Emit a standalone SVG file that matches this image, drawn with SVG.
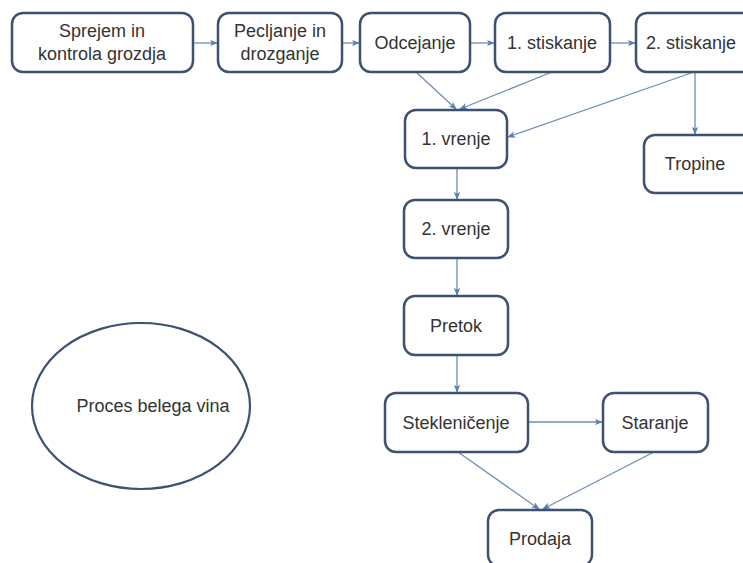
<svg xmlns="http://www.w3.org/2000/svg" width="743" height="563" viewBox="0 0 743 563">
<defs>
<style>
.box{fill:#fff;stroke:#3d5170;stroke-width:2.5}
.t{font-family:"Liberation Sans",Arial,sans-serif;font-size:18px;fill:#333;text-anchor:middle}
.c{stroke:#6d8fb5;stroke-width:1.3;fill:none;marker-end:url(#ah)}
</style>
<marker id="ah" viewBox="0 0 10 10" refX="9" refY="5" markerWidth="8" markerHeight="8" markerUnits="userSpaceOnUse" orient="auto">
<path d="M0,1 L10,5 L0,9 L2.5,5 Z" fill="#5b7fa8"/>
</marker>
</defs>
<rect width="743" height="563" fill="#fff"/>
<g id="connectors">
<line class="c" x1="193" y1="43" x2="217" y2="43"/>
<line class="c" x1="342" y1="43" x2="359" y2="43"/>
<line class="c" x1="470" y1="43" x2="494" y2="43"/>
<line class="c" x1="610" y1="43" x2="635" y2="43"/>
<line class="c" x1="416" y1="72" x2="456" y2="109"/>
<line class="c" x1="552" y1="72" x2="460" y2="109"/>
<line class="c" x1="694" y1="72" x2="508" y2="137"/>
<line class="c" x1="695" y1="72" x2="695" y2="134"/>
<line class="c" x1="457" y1="168" x2="457" y2="199"/>
<line class="c" x1="457" y1="258" x2="457" y2="295"/>
<line class="c" x1="457" y1="355" x2="457" y2="392"/>
<line class="c" x1="528" y1="422" x2="602" y2="422"/>
<line class="c" x1="458" y1="452" x2="539" y2="509"/>
<line class="c" x1="654" y1="452" x2="543" y2="509"/>
</g>
<g id="n1"><rect class="box" x="12" y="13" width="181" height="59" rx="11"/><text class="t" x="102" y="37">Sprejem in</text><text class="t" x="102" y="60">kontrola grozdja</text></g>
<g id="n2"><rect class="box" x="218" y="13" width="124" height="59" rx="11"/><text class="t" x="280" y="37">Pecljanje in</text><text class="t" x="280" y="60">drozganje</text></g>
<g id="n3"><rect class="box" x="360" y="13" width="110" height="59" rx="11"/><text class="t" x="415" y="49">Odcejanje</text></g>
<g id="n4"><rect class="box" x="495" y="13" width="115" height="59" rx="11"/><text class="t" x="552" y="49">1. stiskanje</text></g>
<g id="n5"><rect class="box" x="636" y="13" width="118" height="59" rx="11"/><text class="t" x="691" y="49">2. stiskanje</text></g>
<g id="n6"><rect class="box" x="405" y="110" width="102" height="58" rx="11"/><text class="t" x="456" y="145">1. vrenje</text></g>
<g id="n7"><rect class="box" x="644" y="135" width="110" height="58" rx="11"/><text class="t" x="695" y="170">Tropine</text></g>
<g id="n8"><rect class="box" x="404" y="200" width="104" height="58" rx="11"/><text class="t" x="456" y="235">2. vrenje</text></g>
<g id="n9"><rect class="box" x="404" y="296" width="104" height="59" rx="11"/><text class="t" x="456" y="332">Pretok</text></g>
<g id="n10"><rect class="box" x="385" y="393" width="143" height="59" rx="11"/><text class="t" x="456" y="429">Stekleničenje</text></g>
<g id="n11"><rect class="box" x="603" y="393" width="105" height="59" rx="11"/><text class="t" x="655" y="429">Staranje</text></g>
<g id="n12"><rect class="box" x="488" y="510" width="104" height="56" rx="11"/><text class="t" x="540" y="545">Prodaja</text></g>
<g id="n13"><ellipse cx="141" cy="406" rx="109" ry="83" fill="#fff" stroke="#3d5170" stroke-width="2.2"/><text class="t" x="153" y="412">Proces belega vina</text></g>
</svg>
